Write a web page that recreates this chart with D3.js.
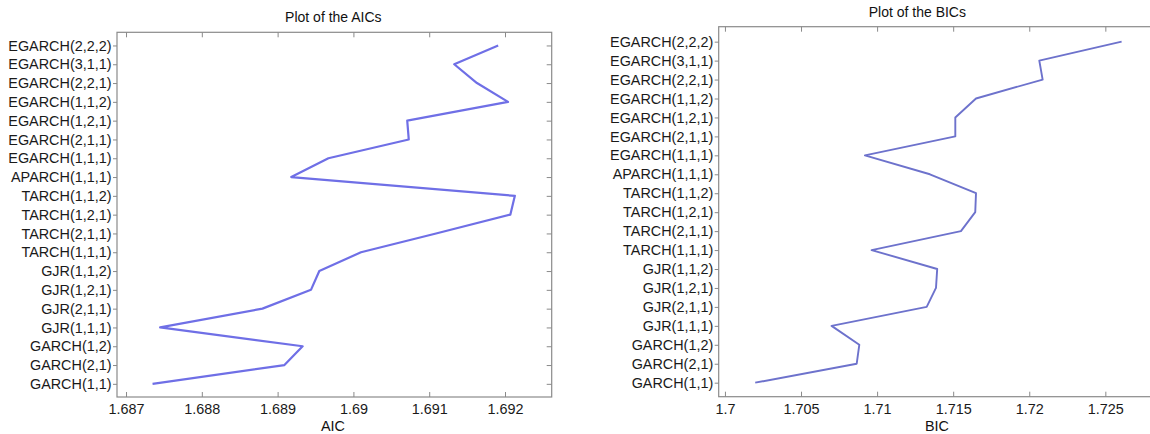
<!DOCTYPE html>
<html>
<head>
<meta charset="utf-8">
<script src="https://cdn.jsdelivr.net/npm/d3@7"></script>
<style>
  body { margin: 0; background: #fff; }
  svg { display: block; font-family: "Liberation Sans", Arial, sans-serif; }
  .tick text { fill: #1a1a1a; font-size: 14.4px; }
  .tick line { stroke: #8a8a8a; }
  .domain { display: none; }
</style>
</head>
<body>
<div id="chart"></div>
<script>
// models, bottom (1) to top (19)
var models = [
  "GARCH(1,1)", "GARCH(2,1)", "GARCH(1,2)",
  "GJR(1,1,1)", "GJR(2,1,1)", "GJR(1,2,1)", "GJR(1,1,2)",
  "TARCH(1,1,1)", "TARCH(2,1,1)", "TARCH(1,2,1)", "TARCH(1,1,2)",
  "APARCH(1,1,1)",
  "EGARCH(1,1,1)", "EGARCH(2,1,1)", "EGARCH(1,2,1)", "EGARCH(1,1,2)",
  "EGARCH(2,2,1)", "EGARCH(3,1,1)", "EGARCH(2,2,2)"
];

var aic = [
  1.68735, 1.68909, 1.68933,
  1.68745, 1.68880, 1.68944, 1.68955,
  1.69010, 1.69109, 1.69207, 1.69213,
  1.68918,
  1.68967, 1.69073, 1.69071, 1.69204,
  1.69163, 1.69133, 1.69191
];

var bic = [
  1.70199, 1.70866, 1.70883,
  1.70701, 1.71326, 1.71387, 1.71395,
  1.70964, 1.71551, 1.71645, 1.71650,
  1.71347,
  1.70920, 1.71514, 1.71514, 1.71650,
  1.72088, 1.72066, 1.72607
];

var aicTicks = [1.687, 1.688, 1.689, 1.69, 1.691, 1.692];
var bicTicks = [1.7, 1.705, 1.71, 1.715, 1.72, 1.725];

var svg = d3.select("#chart").append("svg")
  .attr("width", 1150)
  .attr("height", 434);

function drawPanel(opt) {
  var x = d3.scaleLinear().domain(opt.xDomain).range([opt.left, opt.right]);
  var y = d3.scaleLinear().domain(opt.yDomain).range([opt.bottom, opt.top]);
  var idx = d3.range(1, models.length + 1);

  var g = svg.append("g");

  // box
  g.append("rect")
    .attr("x", opt.left).attr("y", opt.top)
    .attr("width", opt.right - opt.left)
    .attr("height", opt.bottom - opt.top)
    .attr("fill", "none")
    .attr("stroke", "#8a8a8a")
    .attr("stroke-width", 1.2);

  // bottom axis with labels, ticks pointing in
  g.append("g")
    .attr("transform", "translate(0," + opt.bottom + ")")
    .call(d3.axisBottom(x).tickValues(opt.ticks).tickSizeInner(-5).tickSizeOuter(0)
      .tickPadding(7).tickFormat(d3.format("")));

  // top ticks
  g.append("g")
    .attr("transform", "translate(0," + opt.top + ")")
    .call(d3.axisTop(x).tickValues(opt.ticks).tickSizeInner(-5).tickSizeOuter(0).tickFormat(""));

  // left axis, category labels
  g.append("g")
    .attr("transform", "translate(" + opt.left + ",0)")
    .call(d3.axisLeft(y).tickValues(idx).tickSizeInner(4).tickSizeOuter(0).tickPadding(1.5)
      .tickFormat(function(d) { return models[d - 1]; }));

  // right ticks
  g.append("g")
    .attr("transform", "translate(" + opt.right + ",0)")
    .call(d3.axisRight(y).tickValues(idx).tickSizeInner(-5).tickSizeOuter(0).tickFormat(""));

  // the series line
  var line = d3.line()
    .x(function(d) { return x(d); })
    .y(function(d, i) { return y(i + 1); });

  g.append("path")
    .datum(opt.values)
    .attr("d", line)
    .attr("fill", "none")
    .attr("stroke", opt.color)
    .attr("stroke-width", opt.width)
    .attr("stroke-linejoin", "round");

  // title and x label
  g.append("text")
    .attr("x", (opt.left + opt.right) / 2 + opt.titleShift)
    .attr("y", opt.titleY)
    .attr("text-anchor", "middle")
    .attr("font-size", 14)
    .attr("fill", "#111")
    .text(opt.title);

  g.append("text")
    .attr("x", opt.xLabelX)
    .attr("y", 431)
    .attr("text-anchor", "middle")
    .attr("font-size", 14.4)
    .attr("fill", "#111")
    .text(opt.xLabel);
}

drawPanel({
  left: 117, right: 551.7, top: 32.3, bottom: 397,
  xDomain: [1.686881, 1.692616], yDomain: [0.3, 19.7],
  ticks: aicTicks, values: aic,
  color: "#6f6fe6", width: 2.2,
  title: "Plot of the AICs", titleY: 22, titleShift: -1,
  xLabel: "AIC", xLabelX: 333
});

drawPanel({
  left: 718.7, right: 1156, top: 26.7, bottom: 396.7,
  xDomain: [1.69959, 1.72833], yDomain: [0.26, 19.79],
  ticks: bicTicks, values: bic,
  color: "#6d72cc", width: 1.9,
  title: "Plot of the BICs", titleY: 17, titleShift: -20,
  xLabel: "BIC", xLabelX: 937
});
</script>
</body>
</html>
